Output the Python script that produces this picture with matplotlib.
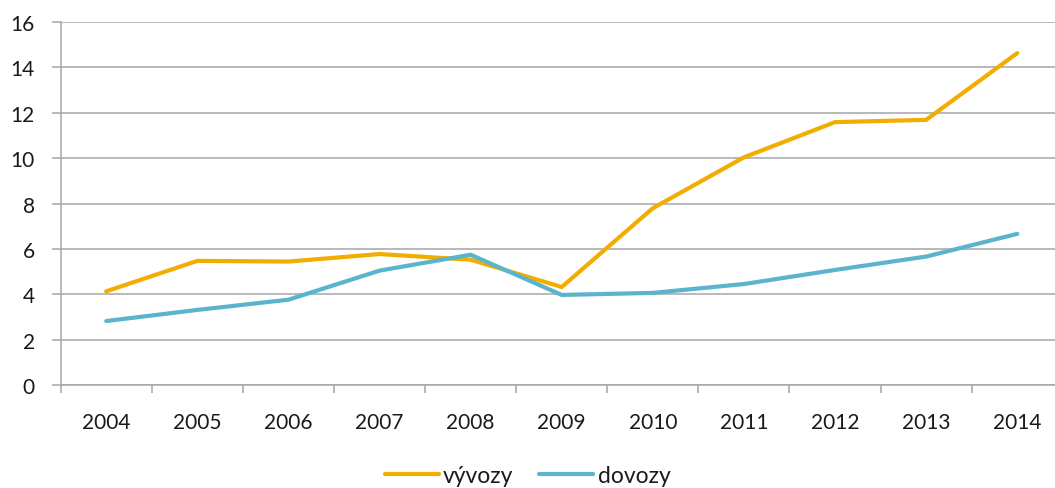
import matplotlib
matplotlib.use('Agg')
import matplotlib.pyplot as plt

# data
roky = ['2004', '2005', '2006', '2007', '2008', '2009',
        '2010', '2011', '2012', '2013', '2014']
vyvozy = [4.14, 5.48, 5.45, 5.78, 5.53, 4.33, 7.80, 10.04, 11.59, 11.69, 14.63]
dovozy = [2.83, 3.32, 3.77, 5.05, 5.75, 3.98, 4.07, 4.46, 5.08, 5.67, 6.67]
y_ticks = [0, 2, 4, 6, 8, 10, 12, 14, 16]

plt.rcParams['font.family'] = ['Lato', 'DejaVu Sans']

ORANZOVA = '#F2AD00'
MODRA = '#5AB4CB'
SEDA = '#A6A6A6'

fig = plt.figure(figsize=(10.55, 4.89), dpi=100)
ax = fig.add_axes([0.0575, 0.21, 1.0074 - 0.0575, 0.953 - 0.21])

x = list(range(len(roky)))
ax.plot(x, vyvozy, color=ORANZOVA, linewidth=3, label='vývozy',
        solid_capstyle='round', solid_joinstyle='miter', zorder=3)
ax.plot(x, dovozy, color=MODRA, linewidth=3, label='dovozy',
        solid_capstyle='round', solid_joinstyle='miter', zorder=3)

ax.set_xlim(-0.5, len(roky) - 0.5)
ax.set_ylim(0, 16)

# y osa + mřížka
ax.set_yticks(y_ticks)
ax.set_yticklabels([str(v) for v in y_ticks], fontsize=15, color='#1a1a1a')
ax.yaxis.grid(True, color=SEDA, linewidth=1.1)
ax.set_axisbelow(True)
ax.tick_params(axis='y', length=6.5, width=1.1, color=SEDA, pad=12)

# x osa: čárky mezi kategoriemi, popisky uprostřed
ax.set_xticks([i - 0.5 for i in range(len(roky) + 1)])
ax.set_xticklabels([])
ax.set_xticks(x, minor=True)
ax.set_xticklabels(roky, minor=True, fontsize=15, color='#1a1a1a')
ax.tick_params(axis='x', which='major', length=6, width=1.1, color=SEDA)
ax.tick_params(axis='x', which='minor', length=0, pad=19)

for s in ['top', 'right']:
    ax.spines[s].set_visible(False)
for s in ['left', 'bottom']:
    ax.spines[s].set_color(SEDA)
    ax.spines[s].set_linewidth(1.1)

fig.legend(loc='center', bbox_to_anchor=(0.5, 0.025), ncol=2, frameon=False,
           fontsize=16.5, handlelength=2.36, handletextpad=0.18,
           columnspacing=1.14, labelcolor='#1a1a1a')

fig.savefig('out.png', dpi=100)
